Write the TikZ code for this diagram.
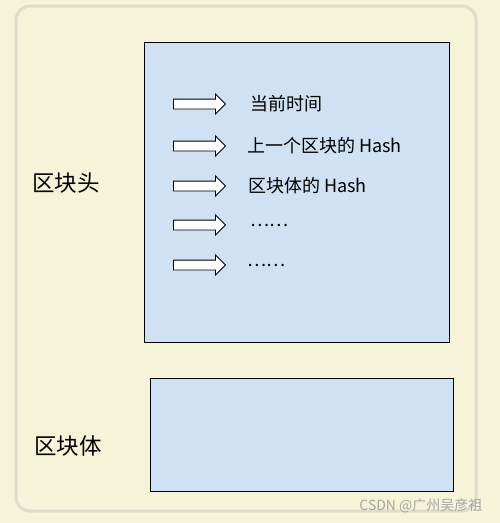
\documentclass[tikz,border=0pt]{standalone}
\usepackage{fontspec}
\setmainfont{Noto Sans CJK SC}
\usepackage{xcolor}
\definecolor{paper}{RGB}{245,244,216}
\definecolor{rim}{RGB}{222,221,204}
\definecolor{paleblue}{RGB}{207,225,242}
\usepackage{tikz}
\usetikzlibrary{shapes.arrows}
\usetikzlibrary{positioning}
\begin{document}
\begin{tikzpicture}[x=1pt,y=-1pt,
  blockbox/.style={draw=black,fill=paleblue,line width=0.9pt},
  fatarrow/.style={single arrow,draw=black,fill=white,line width=0.8pt,inner sep=4.5pt,
    minimum height=52pt,single arrow head extend=5pt},
  item/.style={font=\fontsize{18}{20}\selectfont,anchor=west,inner sep=1pt},
  side/.style={font=\fontsize{22.5}{26}\selectfont}]
\fill[paper] (0,0) rectangle (500,523);
\useasboundingbox (0,0) rectangle (500,523);
\draw[rim,line width=3pt,rounded corners=14pt] (16,6) rectangle (476,511);
\node (head) [blockbox,minimum width=305pt,minimum height=300pt,anchor=north west] at (144,42) {};
\node (body) [blockbox,minimum width=303pt,minimum height=113pt,anchor=north west] at (150,378) {};
\node (headlabel) [side] at (66,183) {区块头};
\node (bodylabel) [side] at (68,446) {区块体};
\node (a1) [fatarrow] at (197,104) {};
\node (a2) [fatarrow] at (197,146) {};
\node (a3) [fatarrow] at (197,186) {};
\node (a4) [fatarrow] at (197,225) {};
\node (a5) [fatarrow] at (197,265) {};
\node (t1) [item,right=23pt of a1] {当前时间};
\node (t2) [item,right=20pt of a2] {上一个区块的 Hash};
\node (t3) [item,right=21pt of a3] {区块体的 Hash};
\node (t4) [item,right=23pt of a4] {……};
\node (t5) [item,right=20pt of a5] {……};
\node (mark) [font=\fontsize{14}{16}\selectfont,text=gray!70,anchor=east] at (486,506) {CSDN @广州吴彦祖};
\end{tikzpicture}
\end{document}
